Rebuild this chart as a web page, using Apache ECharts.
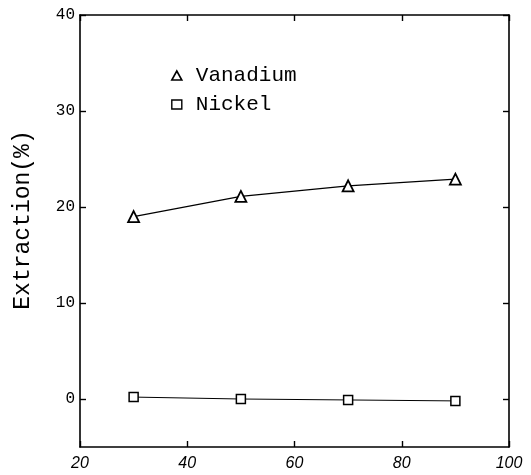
<!DOCTYPE html>
<html>
<head>
<meta charset="utf-8">
<script src="https://cdn.jsdelivr.net/npm/echarts@6/dist/echarts.min.js"></script>
<style>html,body{margin:0;padding:0;background:#fff;}#c{width:531px;height:475px;}</style>
</head>
<body>
<div id="c"></div>
<script>
var xValues = [30, 50, 70, 90];
var vanadium = [19.0, 21.1, 22.2, 22.9];
var nickel = [0.2, 0.0, -0.1, -0.2];
var yTicks = [0, 10, 20, 30, 40];
var xTicks = [20, 40, 60, 80, 100];

var chart = echarts.init(document.getElementById('c'));
function pairs(xs, ys){ return xs.map(function(x,i){ return [x, ys[i]]; }); }
var axisLine = {show:true, onZero:false, lineStyle:{color:'#000', width:1.6}};
var tick = {show:true, inside:true, length:6, lineStyle:{color:'#000', width:1.4}};
chart.setOption({
  animation:false,
  backgroundColor:'#fff',
  grid:{left:80, right:22, top:15, bottom:28, containLabel:false},
  legend:{
    orient:'vertical', left:166, top:60, itemGap:8, itemWidth:10, itemHeight:9,
    textStyle:{fontFamily:'Liberation Mono', fontSize:21, color:'#000', padding:[0,0,0,9]},
    data:[
      {name:'Vanadium', icon:'triangle', itemStyle:{color:'#fff', borderColor:'#000', borderWidth:1.6}},
      {name:'Nickel', icon:'rect', itemStyle:{color:'#fff', borderColor:'#000', borderWidth:1.4}}
    ]
  },
  xAxis:[
    {type:'value', min:20, max:100, interval:20, position:'bottom',
     axisLine:axisLine, axisTick:tick, splitLine:{show:false},
     axisLabel:{show:true, margin:9, color:'#000', fontFamily:'Liberation Sans', fontStyle:'italic', fontSize:16,
       customValues:xTicks}},
    {type:'value', min:20, max:100, interval:20, position:'top',
     axisLine:axisLine, axisTick:tick, splitLine:{show:false}, axisLabel:{show:false}}
  ],
  yAxis:[
    {type:'value', min:-5, max:40, interval:5, position:'left',
     name:'Extraction(%)', nameLocation:'middle', nameGap:46, nameRotate:90,
     nameTextStyle:{fontFamily:'Liberation Mono', fontSize:23, color:'#000', padding:[0,0,0,22]},
     axisLine:axisLine, axisTick:Object.assign({}, tick, {customValues:yTicks}), splitLine:{show:false},
     axisLabel:{show:true, margin:5, color:'#000', fontFamily:'Liberation Mono', fontSize:16, customValues:yTicks}},
    {type:'value', min:-5, max:40, interval:5, position:'right',
     axisLine:axisLine, axisTick:Object.assign({}, tick, {customValues:yTicks}), splitLine:{show:false}, axisLabel:{show:false}}
  ],
  series:[
    {name:'Vanadium', type:'line', data:pairs(xValues, vanadium), symbol:'triangle', symbolSize:11,
     itemStyle:{color:'#fff', borderColor:'#000', borderWidth:1.8},
     lineStyle:{color:'#000', width:1.2}},
    {name:'Nickel', type:'line', data:pairs(xValues, nickel), symbol:'rect', symbolSize:9,
     itemStyle:{color:'#fff', borderColor:'#000', borderWidth:1.5},
     lineStyle:{color:'#000', width:1}}
  ]
});
</script>
</body>
</html>
